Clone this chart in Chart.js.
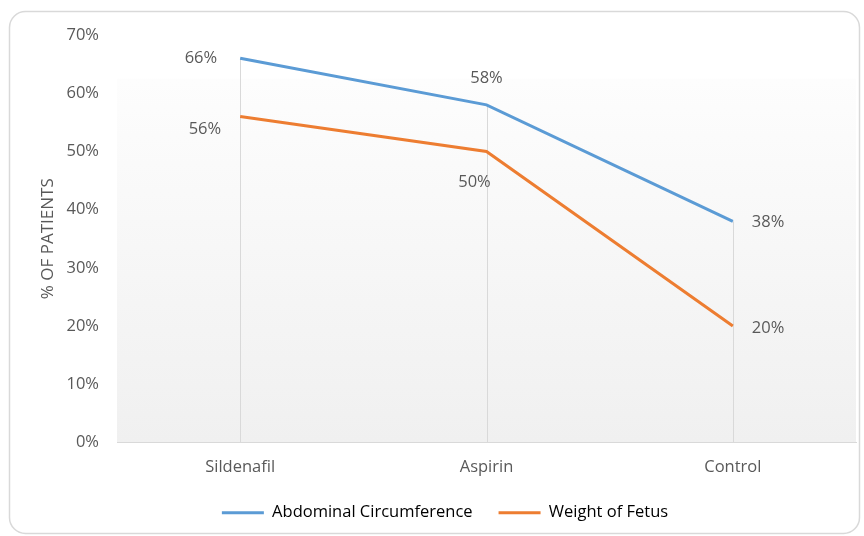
<!DOCTYPE html>
<html>
<head>
<meta charset="utf-8">
<script src="https://cdn.jsdelivr.net/npm/chart.js@4/dist/chart.umd.min.js"></script>
<style>
	html, body { margin: 0; padding: 0; background: #fff; }
	#wrap { width: 864px; height: 536px; position: relative; }
</style>
</head>
<body>
<div id="wrap"><canvas id="myChart" width="864" height="536"></canvas></div>
<script>
const categories = ['Sildenafil', 'Aspirin', 'Control'];
const abdominalCircumference = [66, 58, 38];
const weightOfFetus = [56, 50, 20];
const yTicks = [0, 10, 20, 30, 40, 50, 60, 70];

const textColor = '#595959';
const fontFamily = '"Open Sans", Lato, sans-serif';
const fontSize = 16.5;

// where each value label sits relative to its point: [dx, dy, textAlign]
const labelSpots = [
	[[-23, 0, 'right'], [0, -27, 'center'], [19, 1, 'left']],
	[[-19, 13, 'right'], [-12, 31, 'center'], [19, 2, 'left']]
];

const frame = {
	id: 'frame',
	beforeDraw(chart) {
		const ctx = chart.ctx;
		const a = chart.chartArea;
		ctx.save();
		ctx.fillStyle = '#fff';
		ctx.fillRect(0, 0, chart.width, chart.height);
		// outer rounded border
		ctx.strokeStyle = '#d9d9d9';
		ctx.lineWidth = 1.5;
		ctx.beginPath();
		ctx.roundRect(9.5, 11.5, 850, 522, 16);
		ctx.stroke();
		// plot area gradient
		const g = ctx.createLinearGradient(0, a.top, 0, a.bottom);
		g.addColorStop(0, '#ffffff');
		g.addColorStop(0.105, '#ffffff');
		g.addColorStop(0.11, '#fdfdfd');
		g.addColorStop(1, '#f0f0f0');
		ctx.fillStyle = g;
		ctx.fillRect(a.left, a.top, a.right - a.left, a.bottom - a.top);
		ctx.restore();
	},
	beforeDatasetsDraw(chart) {
		// drop lines from the highest point down to the axis
		const ctx = chart.ctx;
		const a = chart.chartArea;
		ctx.save();
		ctx.strokeStyle = '#d9d9d9';
		ctx.lineWidth = 1;
		chart.data.labels.forEach((c, j) => {
			const pts = chart.data.datasets.map((ds, i) => chart.getDatasetMeta(i).data[j]);
			const x = Math.round(pts[0].x) + 0.5;
			const top = Math.min(...pts.map(p => p.y));
			ctx.beginPath();
			ctx.moveTo(x, top);
			ctx.lineTo(x, a.bottom);
			ctx.stroke();
		});
		ctx.restore();
	}
};

const valueLabels = {
	id: 'valueLabels',
	afterDatasetsDraw(chart) {
		const ctx = chart.ctx;
		ctx.save();
		ctx.font = fontSize + 'px ' + fontFamily;
		ctx.fillStyle = textColor;
		ctx.textBaseline = 'middle';
		chart.data.datasets.forEach((ds, i) => {
			chart.getDatasetMeta(i).data.forEach((pt, j) => {
				const s = labelSpots[i][j];
				ctx.textAlign = s[2];
				ctx.fillText(ds.data[j] + '%', pt.x + s[0], pt.y + s[1]);
			});
		});
		ctx.restore();
	}
};

var ctx = document.getElementById('myChart').getContext('2d');
var myChart = new Chart(ctx, {
	type: 'line',
	data: {
		labels: categories,
		datasets: [
			{
				label: 'Abdominal Circumference',
				data: abdominalCircumference,
				borderColor: '#5b9bd5',
				backgroundColor: '#5b9bd5',
				borderWidth: 3,
				pointRadius: 0,
				tension: 0
			},
			{
				label: 'Weight of Fetus',
				data: weightOfFetus,
				borderColor: '#ed7d31',
				backgroundColor: '#ed7d31',
				borderWidth: 3,
				pointRadius: 0,
				tension: 0
			}
		]
	},
	options: {
		responsive: false,
		animation: false,
		layout: {
			padding: { top: 35, right: 8, bottom: 5, left: 34 }
		},
		plugins: {
			tooltip: { enabled: false },
			legend: {
				position: 'bottom',
				labels: {
					color: textColor,
					font: { family: fontFamily, size: fontSize },
					boxWidth: 42,
					boxHeight: 3,
					padding: 26,
					generateLabels: (chart) => chart.data.datasets.map((ds, i) => ({
						text: ds.label,
						fillStyle: ds.borderColor,
						strokeStyle: ds.borderColor,
						lineWidth: 0,
						datasetIndex: i
					}))
				}
			}
		},
		scales: {
			x: {
				offset: true,
				grid: { display: false },
				border: { color: '#d9d9d9' },
				afterFit: (axis) => { axis.height = 36; },
				ticks: {
					color: textColor,
					font: { family: fontFamily, size: fontSize },
					padding: 7
				}
			},
			y: {
				min: 0,
				max: 70,
				afterBuildTicks: (axis) => { axis.ticks = yTicks.map(v => ({ value: v })); },
				afterFit: (axis) => { axis.width = 83; },
				grid: { display: false },
				border: { display: false },
				ticks: {
					color: textColor,
					font: { family: fontFamily, size: fontSize },
					padding: 10,
					callback: (v) => v + '%'
				},
				title: {
					display: true,
					text: '% OF PATIENTS',
					color: textColor,
					font: { family: fontFamily, size: 17 },
					padding: { top: 4, bottom: 0 }
				}
			}
		}
	},
	plugins: [frame, valueLabels]
});
</script>
</body>
</html>
